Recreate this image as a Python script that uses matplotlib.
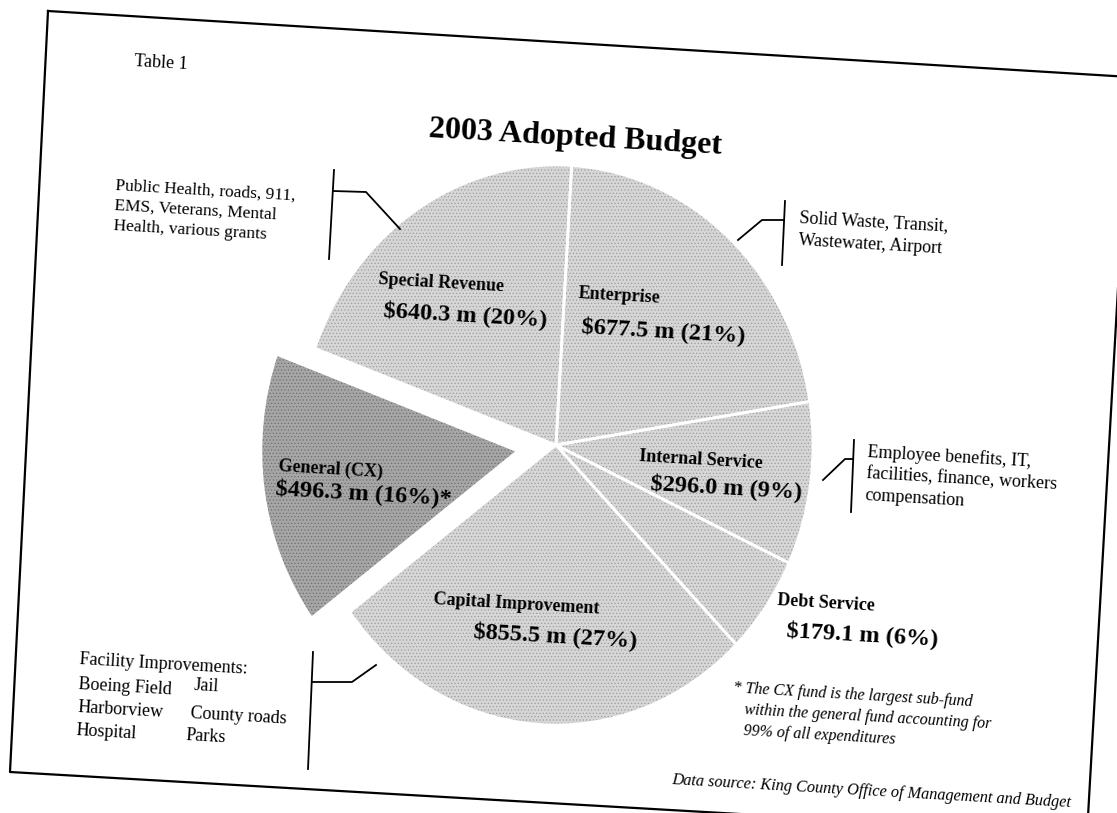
import numpy as np
import matplotlib
matplotlib.use('Agg')
import matplotlib.pyplot as plt

W, H = 1117, 813

# 2003 adopted budget, $ millions (clockwise from 12 o'clock)
funds = ['Enterprise', 'Internal Service', 'Debt Service',
         'Capital Improvement', 'General (CX)', 'Special Revenue']
amounts = [677.5, 296.0, 179.1, 855.5, 496.3, 640.3]
pct_labels = ['21%', '9%', '6%', '27%', '16%', '20%']
notes = ['', '', '', '', '*', '']

sub_funds = {
    'Special Revenue': 'Public Health, roads, 911,\nEMS, Veterans, Mental\nHealth, various grants',
    'Enterprise': 'Solid Waste, Transit,\nWastewater, Airport',
    'Internal Service': 'Employee benefits, IT,\nfacilities, finance, workers\ncompensation',
}

face = ['#d6d6d6', '#d6d6d6', '#d6d6d6', '#d6d6d6', '#a6a6a6', '#d6d6d6']
stipple = ['#9c9c9c', '#9c9c9c', '#9c9c9c', '#9c9c9c', '#6e6e6e', '#9c9c9c']
explode = [0, 0, 0, 0, 0.15, 0]

plt.rcParams['font.family'] = ['Liberation Serif', 'DejaVu Serif']
plt.rcParams['hatch.linewidth'] = 0.5

TILT = -3.3  # the page is scanned a bit crooked

fig = plt.figure(figsize=(W / 100, H / 100), dpi=100)
fig.patch.set_facecolor('white')

# pie axes, stretched a little taller than wide like the scan
cx, cy = 556, 445
rx, ry = 257, 280
lim = 1.3
pax = fig.add_axes([(cx - lim * rx) / W, 1 - (cy + lim * ry) / H,
                    2 * lim * rx / W, 2 * lim * ry / H])
wedges, _ = pax.pie(amounts, explode=explode, startangle=86.5, counterclock=False,
                    colors=face, radius=1, wedgeprops=dict(linewidth=0))
for w, c in zip(wedges, stipple):
    w.set_hatch('.....')
    w.set_edgecolor(c)
    w.set_linewidth(0)
pax.pie(amounts, explode=explode, startangle=86.5, counterclock=False,
        colors=['none'] * len(amounts), radius=1,
        wedgeprops=dict(edgecolor='white', linewidth=2))
pax.set_xlim(-lim, lim)
pax.set_ylim(-lim, lim)
pax.set_aspect('auto')
pax.axis('off')

# overlay in pixel coordinates for the page furniture
ax = fig.add_axes([0, 0, 1, 1])
ax.set_xlim(0, W)
ax.set_ylim(H, 0)
ax.axis('off')

border = np.array([[48, 11], [1130, 77], [1087, 834], [10, 772], [48, 11]])
ax.plot(border[:, 0], border[:, 1], color='black', lw=1.6)

def txt(x, y, s, size=12.5, **kw):
    kw.setdefault('ha', 'left')
    kw.setdefault('va', 'center')
    ax.text(x, y, s, fontsize=size, rotation=TILT, rotation_mode='anchor', **kw)

txt(134, 62, 'Table 1', 13)
txt(575, 138, '2003 Adopted Budget', 23, ha='center', fontweight='bold')

# slice labels
label_pos = {
    'Enterprise': ((578, 294), (582, 326)),
    'Internal Service': ((639, 457), (651, 483)),
    'Debt Service': ((777, 601), (787, 630)),
    'Capital Improvement': ((433, 600), (474, 631)),
    'General (CX)': ((278, 466), (276, 488)),
    'Special Revenue': ((378, 280), (384, 310)),
}
for name, amt, pct, note in zip(funds, amounts, pct_labels, notes):
    (nx, ny), (vx, vy) = label_pos[name]
    txt(nx, ny, name, 13, fontweight='bold')
    txt(vx, vy, f'${amt:.1f} m ({pct}){note}', 17.5, fontweight='bold')

# sub-fund call-outs
txt(116, 178, sub_funds['Special Revenue'], 12.5, va='top', linespacing=1.32)
txt(800, 209, sub_funds['Enterprise'], 13, va='top', linespacing=1.45)
txt(868, 443, sub_funds['Internal Service'], 13, va='top', linespacing=1.35)

txt(79, 660, 'Facility Improvements:', 13)
for s, x, y in [('Boeing Field', 78, 685), ('Harborview', 78, 708), ('Hospital', 76, 731),
                ('Jail', 194, 686), ('County roads', 190, 714), ('Parks', 186, 736)]:
    txt(x, y, s, 13)

brackets = [
    [(334, 170), (329, 259)], [(333, 191), (366, 192), (400, 229)],
    [(785, 201), (782, 265)], [(784, 220), (762, 220), (738, 240)],
    [(854, 440), (851, 512)], [(853, 459), (845, 459), (823, 480)],
    [(313, 652), (308, 769)], [(312, 682), (352, 682), (376, 665)],
]
for seg in brackets:
    seg = np.array(seg)
    ax.plot(seg[:, 0], seg[:, 1], color='black', lw=1.3)

txt(733, 688, '*', 12)
txt(746, 681, 'The CX fund is the largest sub-fund\nwithin the general fund accounting for\n99% of all expenditures',
    11.5, va='top', style='italic', linespacing=1.42)
txt(672, 780, 'Data source: King County Office of Management and Budget', 11.7, style='italic')

fig.savefig('out.png', dpi=100, facecolor='white')
